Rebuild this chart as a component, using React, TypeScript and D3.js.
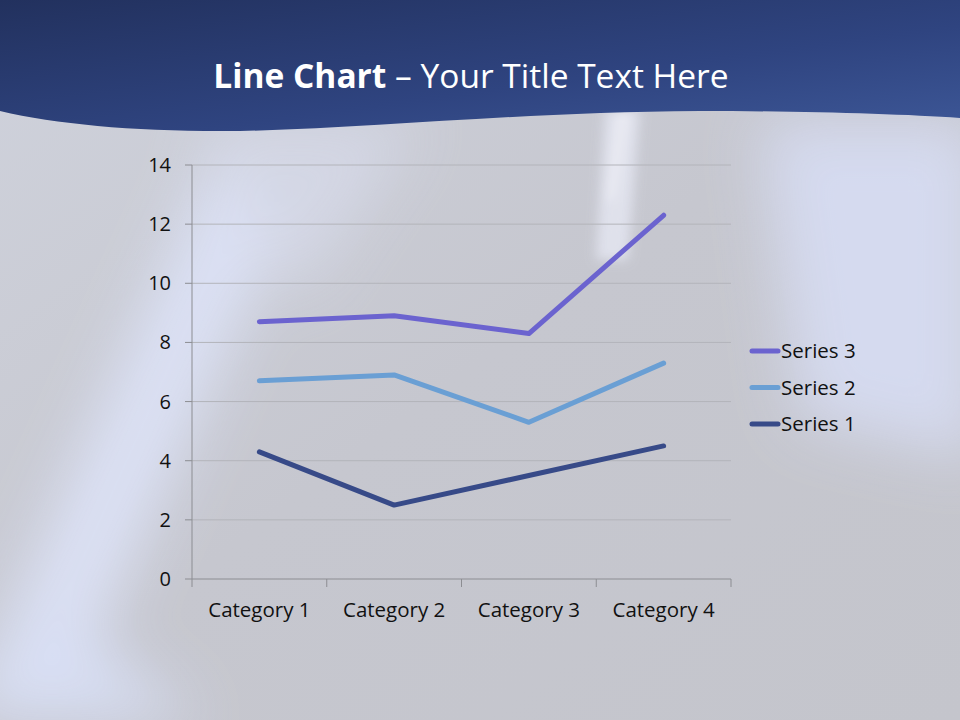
import React from 'react'
import * as d3 from 'd3'

const categories = ['Category 1', 'Category 2', 'Category 3', 'Category 4']
const seriesNames = ['Series 1', 'Series 2', 'Series 3']
// stacked line chart: raw values per series, cumulated below
const series1 = [4.3, 2.5, 3.5, 4.5]
const series2 = [2.4, 4.4, 1.8, 2.8]
const series3 = [2, 2, 3, 5]
const yTicks = [0, 2, 4, 6, 8, 10, 12, 14]
const colors = ['#374a88', '#6a9fd4', '#6b63cf']

const W = 960
const H = 720
const margin = { top: 165, right: 229, bottom: 141, left: 192 }
const FONT = "'Open Sans', 'Noto Sans', sans-serif"

export default function App() {
  const plotW = W - margin.left - margin.right
  const plotH = H - margin.top - margin.bottom

  const rows = categories.map((c, i) => ({
    cat: c,
    'Series 1': series1[i],
    'Series 2': series2[i],
    'Series 3': series3[i],
  }))
  const stacked = d3.stack<any>().keys(seriesNames)(rows)

  const x = d3.scaleBand().domain(categories).range([0, plotW])
  const y = d3.scaleLinear().domain([0, 14]).range([plotH, 0])
  const cx = (c: string) => (x(c) || 0) + x.bandwidth() / 2

  const line = d3.line<any>()
    .x(d => cx(d.data.cat))
    .y(d => y(d[1]))

  const bounds = [...categories.map(c => x(c) || 0), plotW]

  return (
    <div style={{ position: 'fixed', left: 0, top: 0, width: W, height: H }}>
      <svg width={W} height={H} viewBox={`0 0 ${W} ${H}`} style={{ display: 'block' }}>
        <defs>
          <linearGradient id="bg" x1="0" y1="0" x2="1" y2="1">
            <stop offset="0" stopColor="#cfd2dc" />
            <stop offset="0.5" stopColor="#c6c7cf" />
            <stop offset="1" stopColor="#c4c5cc" />
          </linearGradient>
          <linearGradient id="hdr" x1="0" y1="0" x2="1" y2="1">
            <stop offset="0" stopColor="#22315e" />
            <stop offset="0.6" stopColor="#2f4480" />
            <stop offset="1" stopColor="#3d5797" />
          </linearGradient>
          <filter id="blur" x="-50%" y="-50%" width="200%" height="200%">
            <feGaussianBlur stdDeviation="30" />
          </filter>
          <filter id="blur2" x="-50%" y="-50%" width="200%" height="200%">
            <feGaussianBlur stdDeviation="6" />
          </filter>
        </defs>
        <rect width={W} height={H} fill="url(#bg)" />
        {/* soft light streaks in the backdrop */}
        <g filter="url(#blur)" opacity={0.85}>
          <path d="M -40 720 L 60 720 L 330 120 L 230 120 Z" fill="#dfe5fb" />
          <path d="M 760 120 L 980 120 L 980 460 L 800 420 Z" fill="#d8def5" />
          <path d="M 200 120 L 420 120 L 300 300 Z" fill="#d6d9e8" />
          <path d="M 40 600 L 200 720 L -20 720 Z" fill="#dbe3fb" />
        </g>
        <g filter="url(#blur2)" opacity={0.9}>
          <path d="M 605 110 L 640 110 L 628 260 L 596 260 Z" fill="#e2e4ef" />
          <path d="M 620 110 L 628 110 L 614 200 L 608 200 Z" fill="#f4f4fa" />
        </g>
        <path
          d={`M 0 111 C 60 125, 140 132, 240 131 C 380 128, 520 112, 700 111 C 800 111, 900 114, 960 118 L 960 0 L 0 0 Z`}
          fill="url(#hdr)"
        />
        <text x={471} y={88} textAnchor="middle" fill="#ffffff" fontFamily={FONT} fontSize={33.5}>
          <tspan fontWeight={700}>Line Chart</tspan>
          <tspan> – Your Title Text Here</tspan>
        </text>

        <g transform={`translate(${margin.left},${margin.top})`}>
          {yTicks.map(t => (
            <g key={t}>
              {t > 0 && (
                <line x1={0} x2={plotW} y1={y(t)} y2={y(t)} stroke="#b3b4ba" strokeWidth={1} />
              )}
              <line x1={-7} x2={0} y1={y(t)} y2={y(t)} stroke="#8c8d92" />
              <text x={-21} y={y(t)} dy="0.35em" textAnchor="end" fontFamily={FONT} fontSize={20} fill="#111">
                {t}
              </text>
            </g>
          ))}
          <line x1={0} x2={0} y1={0} y2={plotH} stroke="#8c8d92" />
          <line x1={0} x2={plotW} y1={plotH} y2={plotH} stroke="#8c8d92" />
          {bounds.map((b, i) => (
            <line key={i} x1={b} x2={b} y1={plotH} y2={plotH + 8} stroke="#8c8d92" />
          ))}
          {categories.map(c => (
            <text key={c} x={cx(c)} y={plotH + 38} textAnchor="middle" fontFamily={FONT} fontSize={20.5} fill="#111">
              {c}
            </text>
          ))}
          {stacked.map((s, i) => (
            <path
              key={s.key}
              d={line(s as any) || ''}
              fill="none"
              stroke={colors[i]}
              strokeWidth={5}
              strokeLinecap="round"
              strokeLinejoin="round"
            />
          ))}
        </g>

        <g transform="translate(750,351)">
          {[2, 1, 0].map((si, row) => (
            <g key={si} transform={`translate(0,${row * 36.5})`}>
              <line x1={2} x2={28} y1={0} y2={0} stroke={colors[si]} strokeWidth={5} strokeLinecap="round" />
              <text x={31} y={0} dy="0.35em" fontFamily={FONT} fontSize={20.5} fill="#111">
                {seriesNames[si]}
              </text>
            </g>
          ))}
        </g>
      </svg>
    </div>
  )
}
